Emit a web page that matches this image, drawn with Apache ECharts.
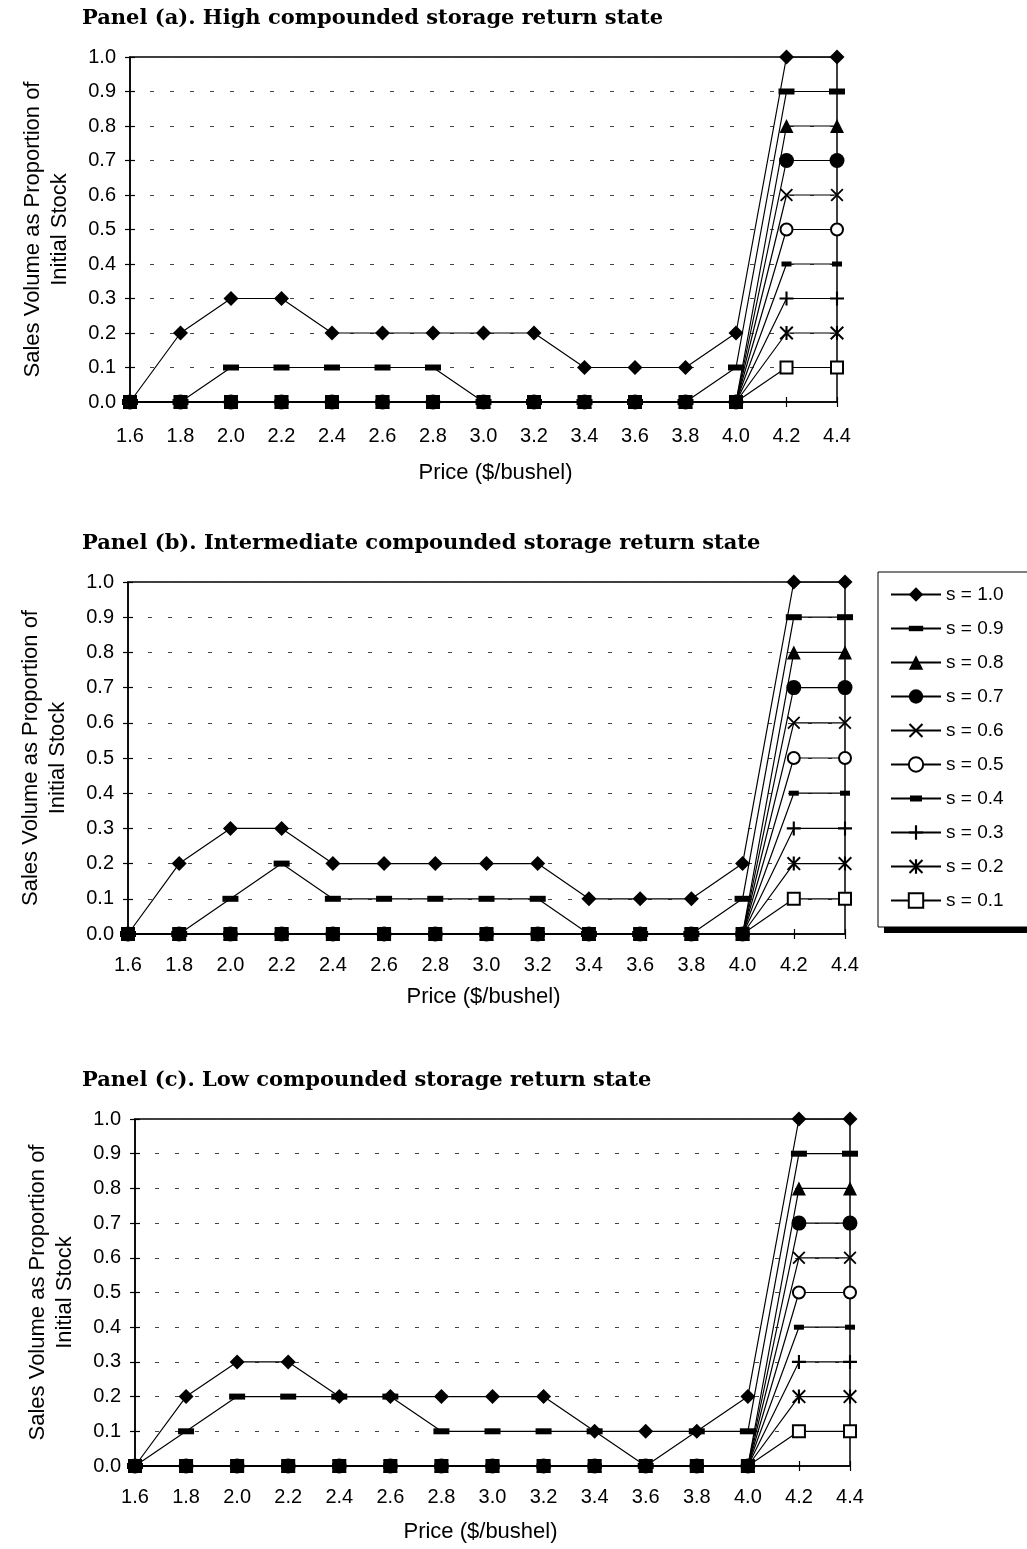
<!DOCTYPE html>
<html>
<head>
<meta charset="utf-8">
<script src="https://cdn.jsdelivr.net/npm/echarts@6/dist/echarts.min.js"></script>
<style>
html,body{margin:0;padding:0;background:#fff;}
#chart{width:1027px;height:1549px;}
</style>
</head>
<body>
<div id="chart"></div>
<script>
// ---- data ----
const categories = ['1.6','1.8','2.0','2.2','2.4','2.6','2.8','3.0','3.2','3.4','3.6','3.8','4.0','4.2','4.4'];
const yTickLabels = ['0.0','0.1','0.2','0.3','0.4','0.5','0.6','0.7','0.8','0.9','1.0'];
const seriesNames = ['s = 1.0','s = 0.9','s = 0.8','s = 0.7','s = 0.6','s = 0.5','s = 0.4','s = 0.3','s = 0.2','s = 0.1'];
const panelTitles = [
  'Panel (a). High compounded storage return state',
  'Panel (b). Intermediate compounded storage return state',
  'Panel (c). Low compounded storage return state'
];
// panel (a)
const a_s10 = [0,0.2,0.3,0.3,0.2,0.2,0.2,0.2,0.2,0.1,0.1,0.1,0.2,1.0,1.0];
const a_s09 = [0,0,0.1,0.1,0.1,0.1,0.1,0,0,0,0,0,0.1,0.9,0.9];
// panel (b)
const b_s10 = [0,0.2,0.3,0.3,0.2,0.2,0.2,0.2,0.2,0.1,0.1,0.1,0.2,1.0,1.0];
const b_s09 = [0,0,0.1,0.2,0.1,0.1,0.1,0.1,0.1,0,0,0,0.1,0.9,0.9];
// panel (c)
const c_s10 = [0,0.2,0.3,0.3,0.2,0.2,0.2,0.2,0.2,0.1,0.1,0.1,0.2,1.0,1.0];
const c_s09 = [0,0.1,0.2,0.2,0.2,0.2,0.1,0.1,0.1,0.1,0,0.1,0.1,0.9,0.9];
// lower s values (same in all panels)
const s08 = [0,0,0,0,0,0,0,0,0,0,0,0,0,0.8,0.8];
const s07 = [0,0,0,0,0,0,0,0,0,0,0,0,0,0.7,0.7];
const s06 = [0,0,0,0,0,0,0,0,0,0,0,0,0,0.6,0.6];
const s05 = [0,0,0,0,0,0,0,0,0,0,0,0,0,0.5,0.5];
const s04 = [0,0,0,0,0,0,0,0,0,0,0,0,0,0.4,0.4];
const s03 = [0,0,0,0,0,0,0,0,0,0,0,0,0,0.3,0.3];
const s02 = [0,0,0,0,0,0,0,0,0,0,0,0,0,0.2,0.2];
const s01 = [0,0,0,0,0,0,0,0,0,0,0,0,0,0.1,0.1];

// ---- styles ----
const FONT = 'Liberation Sans, Arial, sans-serif';
const PLUS = 'path://M5.1,0H6.9V12H5.1ZM0,5.1H12V6.9H0Z';
const XSYM = 'path://M0,1.2L1.2,0L12,10.8L10.8,12ZM12,1.2L1.2,12L0,10.8L10.8,0Z';
const AST = 'path://M0,1.2L1.2,0L12,10.8L10.8,12ZM12,1.2L1.2,12L0,10.8L10.8,0ZM5.1,0H6.9V12H5.1Z';
const DASH_L = 'path://M0,0M16,16M0,5H16V11H0Z';
const DASH_S = 'path://M0,0M12,12M1,3.5H11V8.5H1Z';
const markers = [
  {symbol:'diamond', size:15},
  {symbol:DASH_L, size:16},
  {symbol:'triangle', size:14},
  {symbol:'circle', size:15},
  {symbol:XSYM, size:13},
  {symbol:'emptyCircle', size:12, bw:2},
  {symbol:DASH_S, size:12},
  {symbol:PLUS, size:14},
  {symbol:AST, size:14},
  {symbol:'emptyRect', size:12, bw:2}
];
const panelData = [
  [a_s10,a_s09,s08,s07,s06,s05,s04,s03,s02,s01],
  [b_s10,b_s09,s08,s07,s06,s05,s04,s03,s02,s01],
  [c_s10,c_s09,s08,s07,s06,s05,s04,s03,s02,s01]
];
const grids = [
  {left:130, top:57, width:707, height:345},
  {left:128, top:582, width:717, height:352},
  {left:135, top:1119, width:715, height:347}
];
const titleTops = [8, 533, 1070];
const xLabelMargins = [24, 21, 21];
const xNameGaps = [60, 52, 55];
const xNamePads = [[0,0,0,24],[0,6,0,0],[0,24,0,0]];

const option = {
  animation:false,
  backgroundColor:'#fff',
  title: panelTitles.map((t,i)=>({
    text:t, left:82, top:titleTops[i], padding:0,
    textStyle:{fontFamily:'DejaVu Serif, serif', fontWeight:'bold', fontSize:21, color:'#000'}
  })),
  legend:{
    orient:'vertical', left:878, top:572,
    padding:[13,30,17,12], itemGap:15, itemWidth:50, itemHeight:18,
    backgroundColor:'#fff', borderColor:'#000', borderWidth:1,
    textStyle:{fontFamily:FONT, fontSize:19, color:'#000'},
    data:seriesNames
  },
  graphic:[{
    type:'rect', left:884, top:927, shape:{width:150, height:6},
    style:{fill:'#000'}, silent:true, z:100
  }],
  grid: grids.map(g=>Object.assign({show:true, borderColor:'#000', borderWidth:1.5, backgroundColor:'transparent'}, g)),
  xAxis:[], yAxis:[], series:[]
};

for(let p=0;p<3;p++){
  option.xAxis.push({
    type:'category', gridIndex:p, data:categories, boundaryGap:false,
    axisLine:{lineStyle:{color:'#000', width:1.5}},
    axisTick:{alignWithLabel:true, length:5, lineStyle:{color:'#000', width:1.2}},
    axisLabel:{fontFamily:FONT, fontSize:20, color:'#000', margin:xLabelMargins[p], interval:0},
    name:'Price ($/bushel)', nameLocation:'middle', nameGap:xNameGaps[p],
    nameTextStyle:{fontFamily:FONT, fontSize:22, color:'#000', padding:xNamePads[p]},
    splitLine:{show:false}
  });
  option.xAxis.push({
    type:'category', gridIndex:p, data:categories, boundaryGap:false, position:'bottom',
    axisLine:{show:false},
    axisTick:{inside:true, length:5, lineStyle:{color:'#000', width:1.2}},
    axisLabel:{show:false}, splitLine:{show:false}
  });
  option.yAxis.push({
    type:'value', gridIndex:p, min:0, max:1, interval:0.1,
    axisLine:{show:true, lineStyle:{color:'#000', width:1.5}},
    axisTick:{show:true, length:5, lineStyle:{color:'#000', width:1.2}},
    axisLabel:{fontFamily:FONT, fontSize:20, color:'#000', margin:14,
      formatter:v=>yTickLabels[Math.round(v*10)]},
    splitLine:{show:true, lineStyle:{color:'#444', width:1, type:[4,16]}},
    name:'Sales Volume as Proportion of\nInitial Stock', nameLocation:'middle', nameGap:57,
    nameTextStyle:{fontFamily:FONT, fontSize:22, color:'#000', lineHeight:27}
  });
  option.yAxis.push({
    type:'value', gridIndex:p, min:0, max:1, interval:0.1, position:'left',
    axisLine:{show:false},
    axisTick:{show:true, inside:true, length:5, lineStyle:{color:'#000', width:1.2}},
    axisLabel:{show:false}, splitLine:{show:false}
  });
  panelData[p].forEach((d,k)=>{
    const m = markers[k];
    option.series.push({
      type:'line', name:seriesNames[k], xAxisIndex:2*p, yAxisIndex:2*p,
      data:d, showSymbol:true, showAllSymbol:true,
      symbol:m.symbol, symbolSize:m.size,
      lineStyle:{color:'#000', width:1.2},
      itemStyle:m.bw ? {color:'#000', borderColor:'#000', borderWidth:m.bw} : {color:'#000'},
      emphasis:{disabled:true},
      z: 2 + (10-k)
    });
  });
}

const chart = echarts.init(document.getElementById('chart'), null, {renderer:'canvas'});
chart.setOption(option);
</script>
</body>
</html>
